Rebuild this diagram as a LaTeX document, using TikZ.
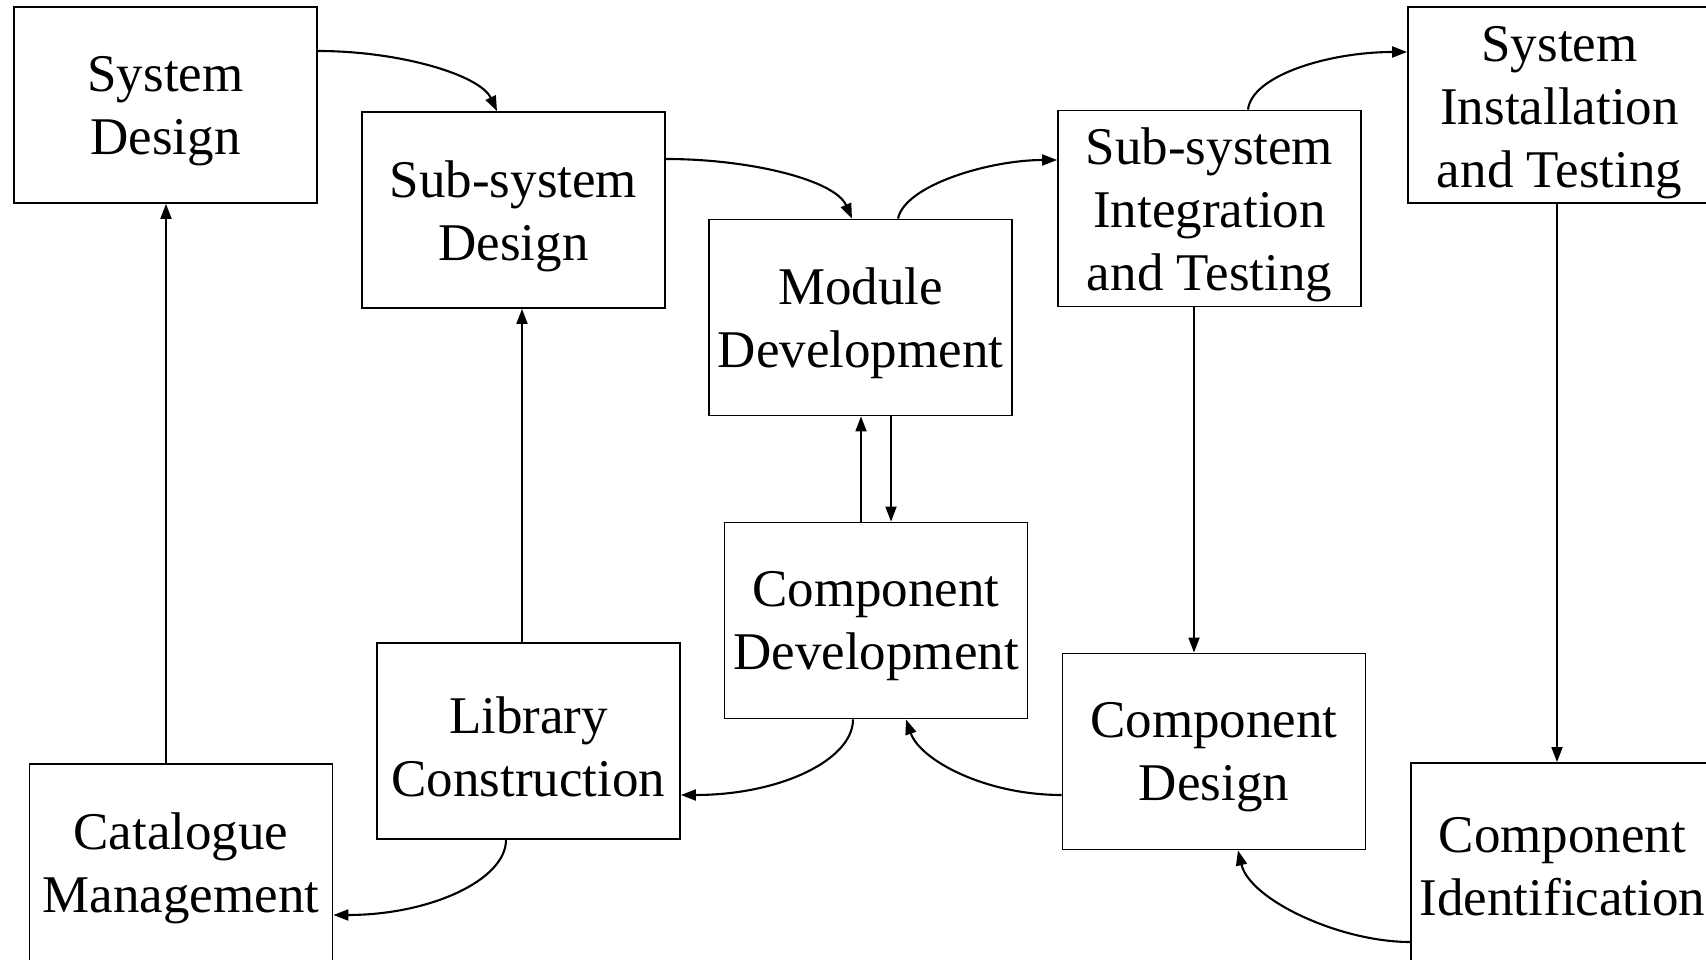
\documentclass[tikz,border=0pt]{standalone}
\usepackage{fontspec}
\setmainfont{Liberation Serif}
\usetikzlibrary{arrows.meta}
\tikzset{
  stage/.style={draw, line width=1.8pt, rectangle, minimum width=303pt, minimum height=196pt, inner sep=0pt},
  txt/.style={inner sep=0pt, align=center, yshift=-6pt, font=\fontsize{53}{63}\selectfont},
  flow/.style={line width=2.1pt, -{Triangle[length=15pt,width=11pt]}},
  vflow/.style={line width=1.8pt, -{Triangle[length=15pt,width=11pt]}}
}
\begin{document}
\begin{tikzpicture}[x=1pt,y=1pt]
\useasboundingbox (0,0) rectangle (1706,959);
\node[stage] (SD) at (165.5,854) {};
\node[stage] (SSD) at (513.5,749) {};
\node[stage] (MD) at (860.5,641.5) {};
\node[stage] (SSIT) at (1209.5,750.5) {};
\node[stage] (SIT) at (1559.5,854) {};
\node[stage] (CD) at (876,338.5) {};
\node[stage] (LC) at (528.5,218) {};
\node[stage, minimum height=200pt] (CM) at (181,95) {};
\node[stage] (CDes) at (1214,207.5) {};
\node[stage, minimum height=200pt] (CI) at (1562.5,96) {};

\node[txt] (SDt) at (SD) {System\\Design};
\node[txt] (SSDt) at (SSD) {Sub-system\\Design};
\node[txt] (MDt) at (MD) {Module\\Development};
\node[txt] (SSITt) at (SSIT) {Sub-system\\Integration\\and Testing};
\node[txt, yshift=-2pt] (SITt) at (SIT) {System\\Installation\\and Testing};
\node[txt] (CDt) at (CD) {Component\\Development};
\node[txt] (LCt) at (LC) {Library\\Construction};
\node[txt, yshift=2pt] (CMt) at (CM) {Catalogue\\Management};
\node[txt, yshift=2pt] (CIt) at (CI) {Component\\Identification};
\node[txt] (CDest) at (CDes) {Component\\Design};

\draw[flow] (SD.east |- 0,908) .. controls (400,908) and (480,884) .. (SSD.north -| 497,0);
\draw[flow] (SSD.east |- 0,800) .. controls (750,800) and (835,779) .. (MD.north -| 852,0);
\draw[flow] (MD.north -| 898,0) .. controls (905,774) and (990,799) .. (SSIT.west |- 0,799);
\draw[flow] (SSIT.north -| 1248,0) .. controls (1252,884) and (1330,907) .. (SIT.west |- 0,907);
\draw[vflow] (SIT.south -| 1557,0) -- (CI.north -| 1557,0);
\draw[vflow] (SSIT.south -| 1194,0) -- (CDes.north -| 1194,0);
\draw[flow] (CI.west |- 0,17) .. controls (1340,17) and (1250,59) .. (CDes.south -| 1238,0);
\draw[flow] (CDes.west |- 0,164) .. controls (985,164) and (920,199) .. (CD.south -| 906,0);
\draw[flow] (CD.south -| 853,0) .. controls (853,199) and (780,164) .. (LC.east |- 0,164);
\draw[vflow] (CD.north -| 861,0) -- (MD.south -| 861,0);
\draw[vflow] (MD.south -| 891,0) -- (CD.north -| 891,0);
\draw[vflow] (LC.north -| 522,0) -- (SSD.south -| 522,0);
\draw[vflow] (CM.north -| 166,0) -- (SD.south -| 166,0);
\draw[flow] (LC.south -| 506,0) .. controls (506,79) and (430,44) .. (CM.east |- 0,44);
\end{tikzpicture}
\end{document}
